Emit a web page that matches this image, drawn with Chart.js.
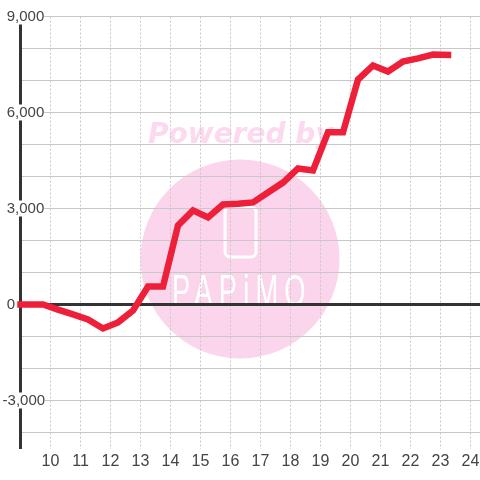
<!DOCTYPE html>
<html>
<head>
<meta charset="utf-8">
<style>html,body{margin:0;padding:0;background:#fff}canvas{display:block}</style>
<script src="https://cdn.jsdelivr.net/npm/chart.js@4"></script>
</head>
<body>
<canvas id="c" width="480" height="480"></canvas>
<script>
const hours = [9, 9.25, 9.75, 10.25, 10.75, 11.25, 11.75, 12.25, 12.75, 13.25, 13.75, 14.25, 14.75, 15.25, 15.75, 16.25, 16.75, 17.25, 17.75, 18.25, 18.75, 19.25, 19.75, 20.25, 20.75, 21.25, 21.75, 22.25, 22.75, 23.25];
const profit = [0, 0, 0, -160, -310, -470, -750, -560, -190, 560, 560, 2470, 2940, 2720, 3125, 3150, 3190, 3500, 3810, 4250, 4190, 5380, 5380, 7030, 7470, 7280, 7590, 7690, 7810, 7800];
const xTicks = [9, 10, 11, 12, 13, 14, 15, 16, 17, 18, 19, 20, 21, 22, 23, 24];
const yTicks = [-4000, -3000, -2000, -1000, 0, 1000, 2000, 3000, 4000, 5000, 6000, 7000, 8000, 9000];
const labelledEvery = 3000;

const watermark = {
  id: 'watermark',
  beforeDraw(chart) {
    const c = chart.ctx;
    c.save();
    c.fillStyle = '#ffffff';
    c.fillRect(0, 0, 480, 480);
    c.fillStyle = '#fbd5ec';
    c.beginPath(); c.arc(240, 259, 99.5, 0, Math.PI * 2); c.fill();
    c.fillStyle = '#fcd9ee';
    c.font = 'italic bold 28px "DejaVu Sans"';
    c.textAlign = 'left'; c.textBaseline = 'alphabetic';
    c.fillText('Powered by', 148, 143);
    c.strokeStyle = '#ffffff'; c.lineWidth = 3;
    c.beginPath(); c.roundRect(225, 207, 31, 50, 5); c.stroke();
    c.translate(172, 306);
    c.scale(0.62, 1);
    c.fillStyle = '#ffffff';
    c.font = '44px "Liberation Sans"';
    c.letterSpacing = '10px';
    c.fillText('PAPiMO', 0, 0);
    c.restore();
  }
};

new Chart(document.getElementById('c'), {
  type: 'line',
  plugins: [watermark],
  data: {
    datasets: [{
      data: hours.map((h, i) => ({ x: h, y: profit[i] })),
      borderColor: '#ee2039',
      borderWidth: 6.5,
      borderCapStyle: 'square',
      borderJoinStyle: 'miter',
      pointRadius: 0,
      tension: 0,
      fill: false,
      clip: false
    }]
  },
  options: {
    responsive: false,
    animation: false,
    devicePixelRatio: 1,
    layout: { padding: { top: 16.5, left: 0, right: 0, bottom: 0 } },
    plugins: { legend: { display: false }, tooltip: { enabled: false }, title: { display: false } },
    scales: {
      x: {
        type: 'linear',
        min: 9,
        max: 24.3167,
        afterFit(s) { s.height = 31.5; s.paddingLeft = 0; s.paddingRight = 0; },
        afterBuildTicks(s) { s.ticks = xTicks.map(value => ({ value })); },
        border: { display: false, dash: [2, 2] },
        grid: { color: '#c8c8c8', lineWidth: 1, tickLength: 0, drawTicks: false },
        ticks: {
          autoSkip: false, maxRotation: 0, padding: 3,
          color: '#444444',
          font: { family: '"Liberation Sans"', size: 16 },
          callback: v => (v === 9 ? '' : String(v))
        }
      },
      y: {
        type: 'linear',
        min: -4500,
        max: 9000,
        afterFit(s) { s.width = 20.5; s.paddingTop = 0; s.paddingBottom = 0; },
        afterBuildTicks(s) { s.ticks = yTicks.map(value => ({ value })); },
        border: { display: true, color: '#333333', width: 3 },
        grid: {
          drawTicks: false, tickLength: 0,
          color: ctx => (ctx.tick && ctx.tick.value === 0 ? '#333333' : '#c8c8c8'),
          lineWidth: ctx => (ctx.tick && ctx.tick.value === 0 ? 3 : 1)
        },
        ticks: {
          autoSkip: false, mirror: true, padding: -17.9,
          color: '#444444',
          font: { family: '"Liberation Sans"', size: 15, lineHeight: 16 / 15 },
          showLabelBackdrop: ctx => ctx.tick.value % labelledEvery === 0,
          backdropColor: '#ffffff',
          backdropPadding: { left: 1, right: 0, top: 0, bottom: 0 },
          callback: v => {
            if (v % labelledEvery !== 0) return '';
            const text = v.toLocaleString('en-US');
            return v < 0 ? text : '\u00a0' + text;
          }
        }
      }
    }
  }
});
</script>
</body>
</html>
